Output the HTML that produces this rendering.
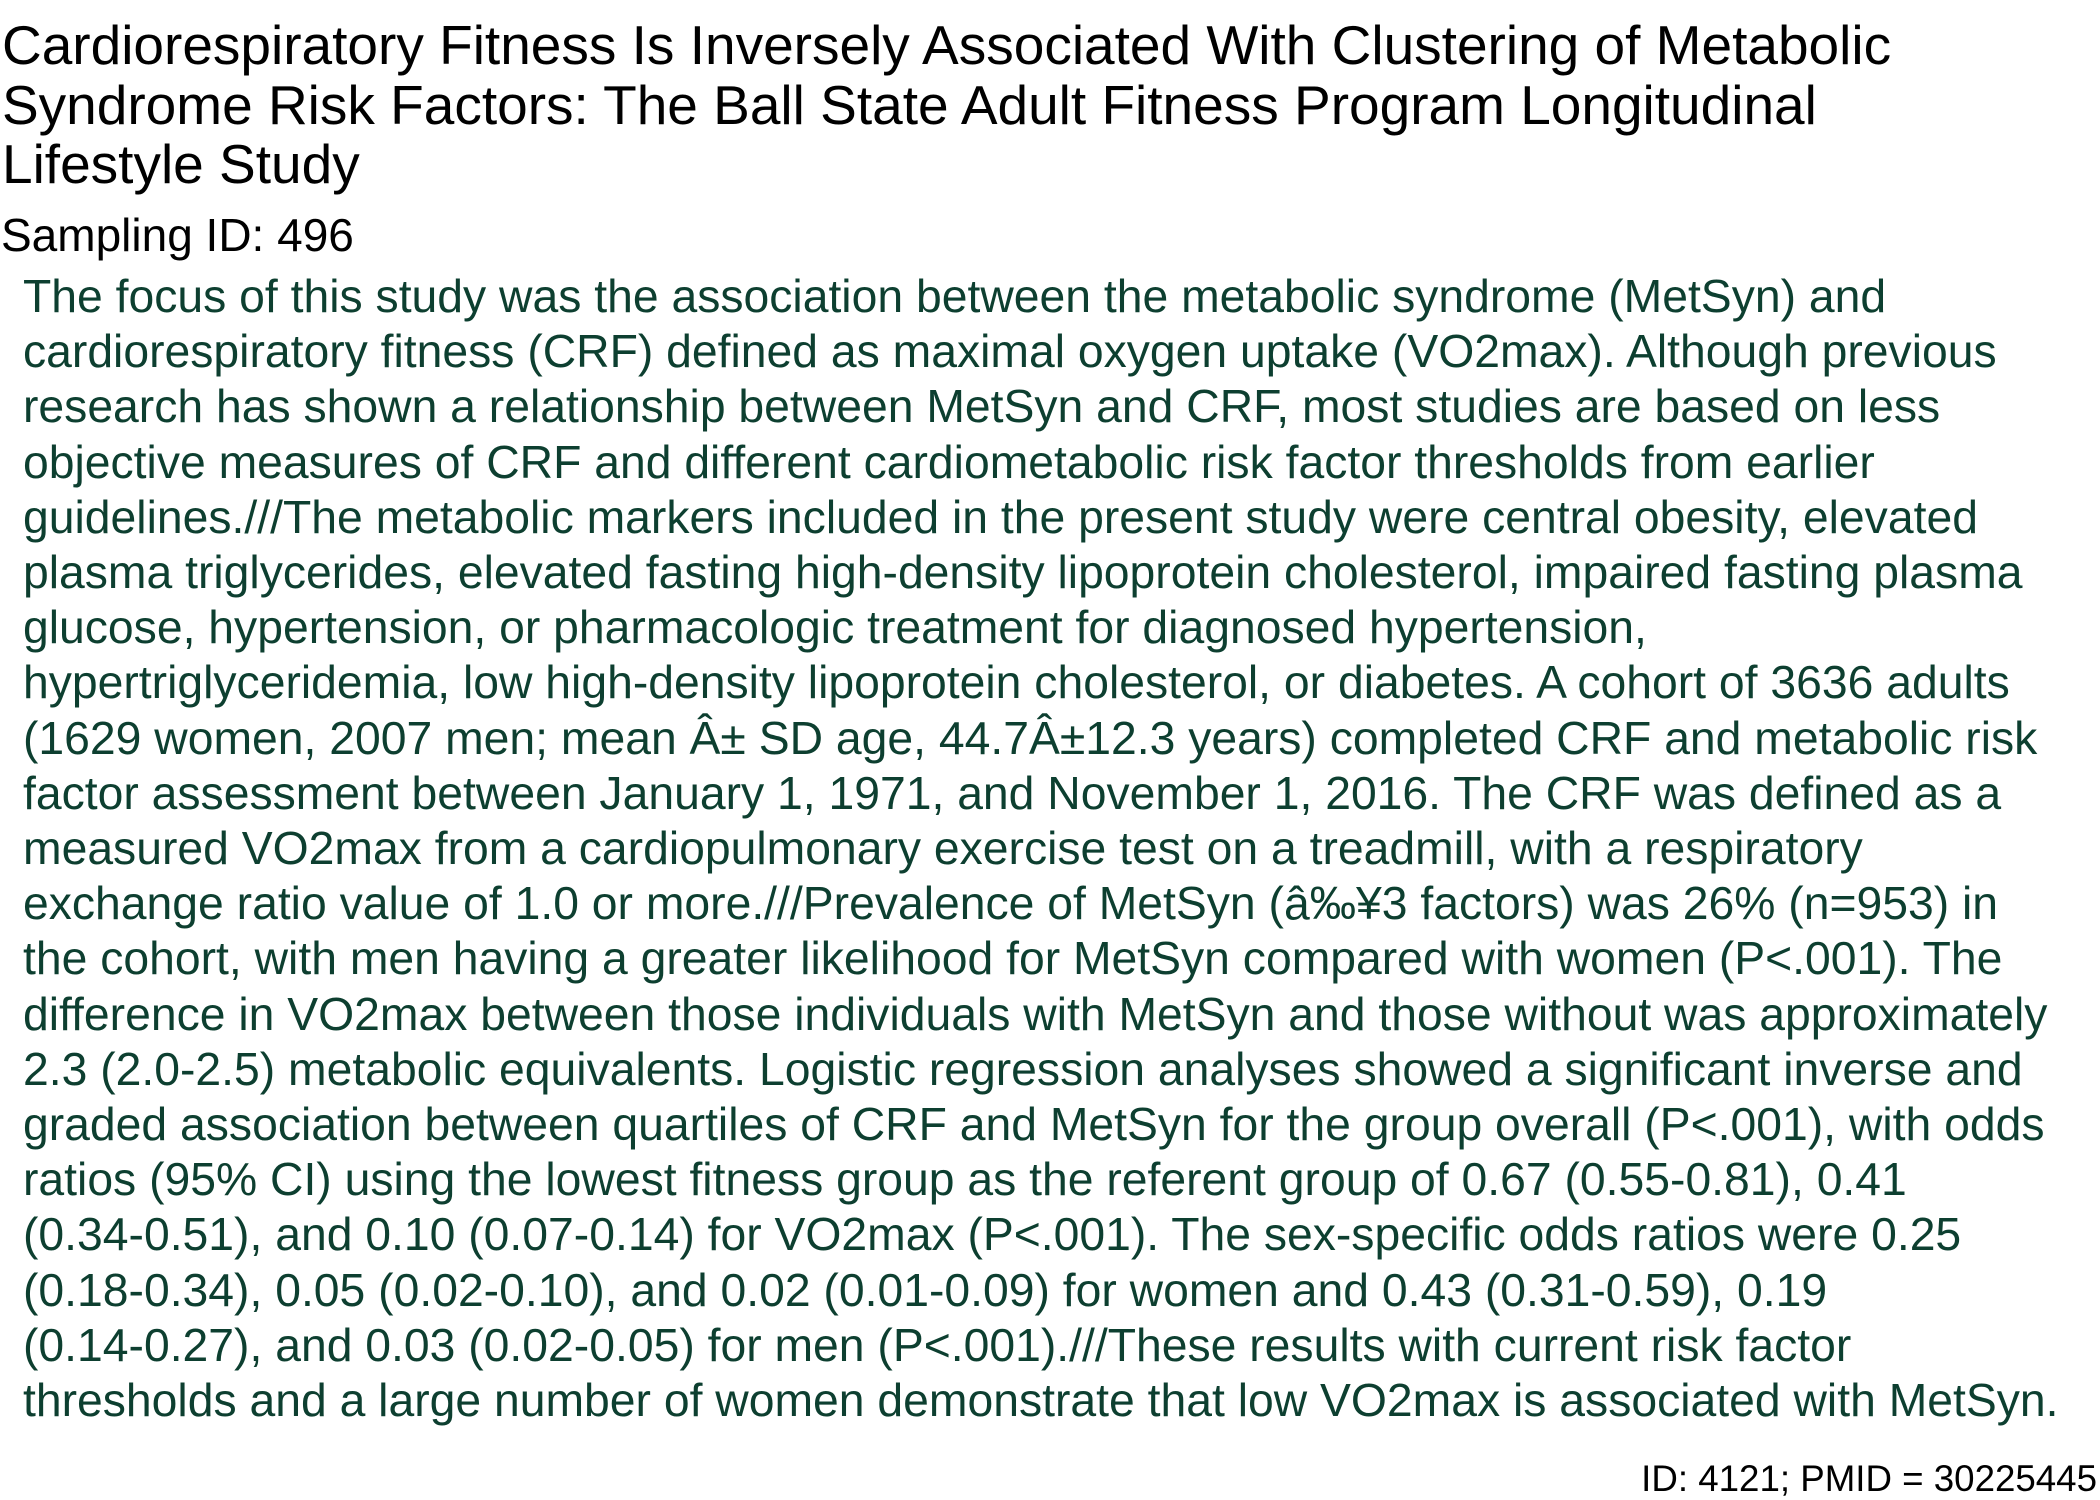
<!DOCTYPE html>
<html><head><meta charset="utf-8"><style>
html,body{margin:0;padding:0;width:2100px;height:1500px;background:#fff;overflow:hidden;font-family:"Liberation Sans",Arial,sans-serif;}
#title{position:absolute;left:2px;top:16px;font-size:55px;line-height:59.6px;color:#000;white-space:nowrap;}
#samp{position:absolute;left:1px;top:210px;font-size:46px;line-height:50px;color:#000;white-space:nowrap;}
#abs{position:absolute;left:23px;top:269px;font-size:46.3px;line-height:55.2px;color:#0d3f30;white-space:nowrap;}
#foot{position:absolute;right:3px;top:1460px;font-size:36.7px;line-height:38px;color:#000;white-space:nowrap;}
</style></head><body>
<div id="title">Cardiorespiratory Fitness Is Inversely Associated With Clustering of Metabolic<br>Syndrome Risk Factors: The Ball State Adult Fitness Program Longitudinal<br>Lifestyle Study</div>
<div id="samp">Sampling ID: 496</div>
<div id="abs">The focus of this study was the association between the metabolic syndrome (MetSyn) and<br>cardiorespiratory fitness (CRF) defined as maximal oxygen uptake (VO2max). Although previous<br>research has shown a relationship between MetSyn and CRF, most studies are based on less<br>objective measures of CRF and different cardiometabolic risk factor thresholds from earlier<br>guidelines.///The metabolic markers included in the present study were central obesity, elevated<br>plasma triglycerides, elevated fasting high-density lipoprotein cholesterol, impaired fasting plasma<br>glucose, hypertension, or pharmacologic treatment for diagnosed hypertension,<br>hypertriglyceridemia, low high-density lipoprotein cholesterol, or diabetes. A cohort of 3636 adults<br>(1629 women, 2007 men; mean Â± SD age, 44.7Â±12.3 years) completed CRF and metabolic risk<br>factor assessment between January 1, 1971, and November 1, 2016. The CRF was defined as a<br>measured VO2max from a cardiopulmonary exercise test on a treadmill, with a respiratory<br>exchange ratio value of 1.0 or more.///Prevalence of MetSyn (â‰¥3 factors) was 26% (n=953) in<br>the cohort, with men having a greater likelihood for MetSyn compared with women (P&lt;.001). The<br>difference in VO2max between those individuals with MetSyn and those without was approximately<br>2.3 (2.0-2.5) metabolic equivalents. Logistic regression analyses showed a significant inverse and<br>graded association between quartiles of CRF and MetSyn for the group overall (P&lt;.001), with odds<br>ratios (95% CI) using the lowest fitness group as the referent group of 0.67 (0.55-0.81), 0.41<br>(0.34-0.51), and 0.10 (0.07-0.14) for VO2max (P&lt;.001). The sex-specific odds ratios were 0.25<br>(0.18-0.34), 0.05 (0.02-0.10), and 0.02 (0.01-0.09) for women and 0.43 (0.31-0.59), 0.19<br>(0.14-0.27), and 0.03 (0.02-0.05) for men (P&lt;.001).///These results with current risk factor<br>thresholds and a large number of women demonstrate that low VO2max is associated with MetSyn.</div>
<div id="foot">ID: 4121; PMID = 30225445</div>
</body></html>
